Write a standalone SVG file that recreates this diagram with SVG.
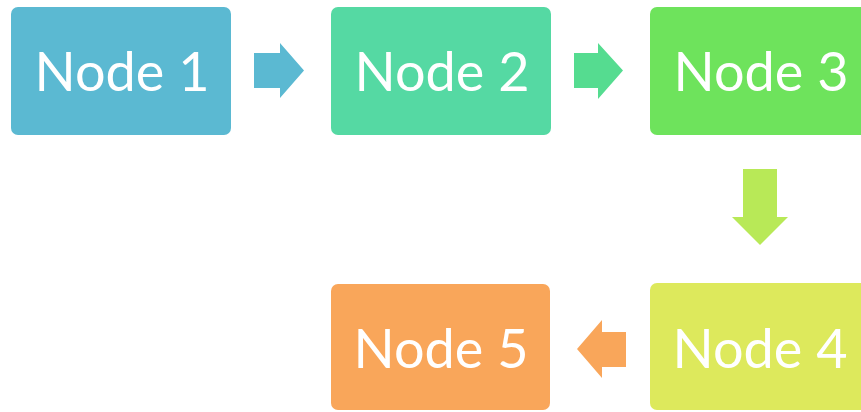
<svg xmlns="http://www.w3.org/2000/svg" width="861" height="412" viewBox="0 0 861 412">
<style>
.lbl{font-family:Lato,"Open Sans",sans-serif;font-size:54px;fill:#ffffff;text-anchor:middle}
</style>
<rect width="861" height="412" fill="#ffffff"/>
<g id="connectors">
<polygon points="254,53 280,53 280,43 304,70.5 280,98 280,88 254,88" fill="#5bb9d2"/>
<polygon points="574,53 598,53 598,43 623,70.5 598,99 598,88 574,88" fill="#55dc90"/>
<polygon points="743,169 777,169 777,217 788,217 760,245 732,217 743,217" fill="#b8e957"/>
<polygon points="626,332 602,332 602,320 577,349 602,378 602,367 626,367" fill="#f9a65a"/>
</g>
<g id="node1"><rect x="11" y="7" width="220" height="128" rx="7" fill="#5bb9d2"/><text class="lbl" x="122" y="91">Node 1</text></g>
<g id="node2"><rect x="331" y="7" width="220" height="128" rx="7" fill="#55d9a3"/><text class="lbl" x="442" y="91">Node 2</text></g>
<g id="node3"><rect x="650" y="7" width="220" height="128" rx="7" fill="#6ee35c"/><text class="lbl" x="761" y="91">Node 3</text></g>
<g id="node4"><rect x="650" y="283" width="220" height="127" rx="7" fill="#dde95c"/><text class="lbl" x="760" y="368">Node 4</text></g>
<g id="node5"><rect x="331" y="284" width="219" height="126" rx="7" fill="#f9a65a"/><text class="lbl" x="441" y="368">Node 5</text></g>
</svg>
